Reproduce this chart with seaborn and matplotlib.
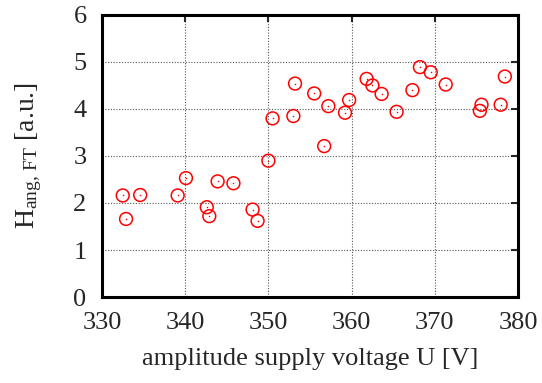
import matplotlib
matplotlib.use("Agg")
import matplotlib.pyplot as plt
import seaborn as sns
import pandas as pd

voltage = [332.5, 332.9, 334.6, 339.1, 340.1, 342.6, 342.9, 343.9, 345.8, 348.1,
           348.7, 350.0, 350.5, 353.0, 353.2, 355.5, 356.7, 357.2, 359.2, 359.7,
           361.8, 362.5, 363.6, 365.4, 367.3, 368.2, 369.5, 371.3, 375.4, 375.6,
           377.9, 378.4]
h_ang = [2.16, 1.66, 2.17, 2.16, 2.53, 1.91, 1.72, 2.46, 2.42, 1.86,
         1.62, 2.90, 3.80, 3.85, 4.54, 4.33, 3.21, 4.06, 3.92, 4.19,
         4.64, 4.50, 4.32, 3.94, 4.40, 4.89, 4.78, 4.52, 3.96, 4.09,
         4.09, 4.69]
x_ticks = [330, 340, 350, 360, 370, 380]
y_ticks = [0, 1, 2, 3, 4, 5, 6]

df = pd.DataFrame({"U": voltage, "H": h_ang})

sns.set_style("white")
plt.rcParams['font.family'] = ['Liberation Serif', 'DejaVu Serif']
plt.rcParams['mathtext.fontset'] = 'custom'
plt.rcParams['mathtext.rm'] = 'Liberation Serif'
plt.rcParams['mathtext.it'] = 'Liberation Serif:italic'

fig = plt.figure(figsize=(5.42, 3.83), dpi=100)
ax = fig.add_axes([0.188, 0.2245, 0.768, 0.7365])

sns.scatterplot(data=df, x="U", y="H", ax=ax, marker="o", s=85,
                facecolor="none", edgecolor="#ff0000", linewidth=1.1, zorder=3)
sns.scatterplot(data=df, x="U", y="H", ax=ax, marker="o", s=1.2,
                color="#ff0000", linewidth=0, zorder=4)

ax.set_xlim(330, 380)
ax.set_ylim(0, 6)
ax.set_xticks(x_ticks)
ax.set_yticks(y_ticks)
ax.grid(True, linestyle=(0, (1, 1.5)), color="#555555", linewidth=0.8)
ax.set_axisbelow(True)
for s in ax.spines.values():
    s.set_linewidth(2.2)
    s.set_color("black")
ax.tick_params(direction="in", length=5, width=1.5, top=True, right=True,
               labelsize=19)
ax.tick_params(axis="x", pad=11)
ax.tick_params(axis="y", pad=11)
ax.set_xlabel("amplitude supply voltage U [V]", fontsize=19, labelpad=10)
ax.set_ylabel(r"H$_{\mathrm{ang,\,FT}}$ [a.u.]", fontsize=20, labelpad=21)

fig.savefig("out.png", dpi=100)
